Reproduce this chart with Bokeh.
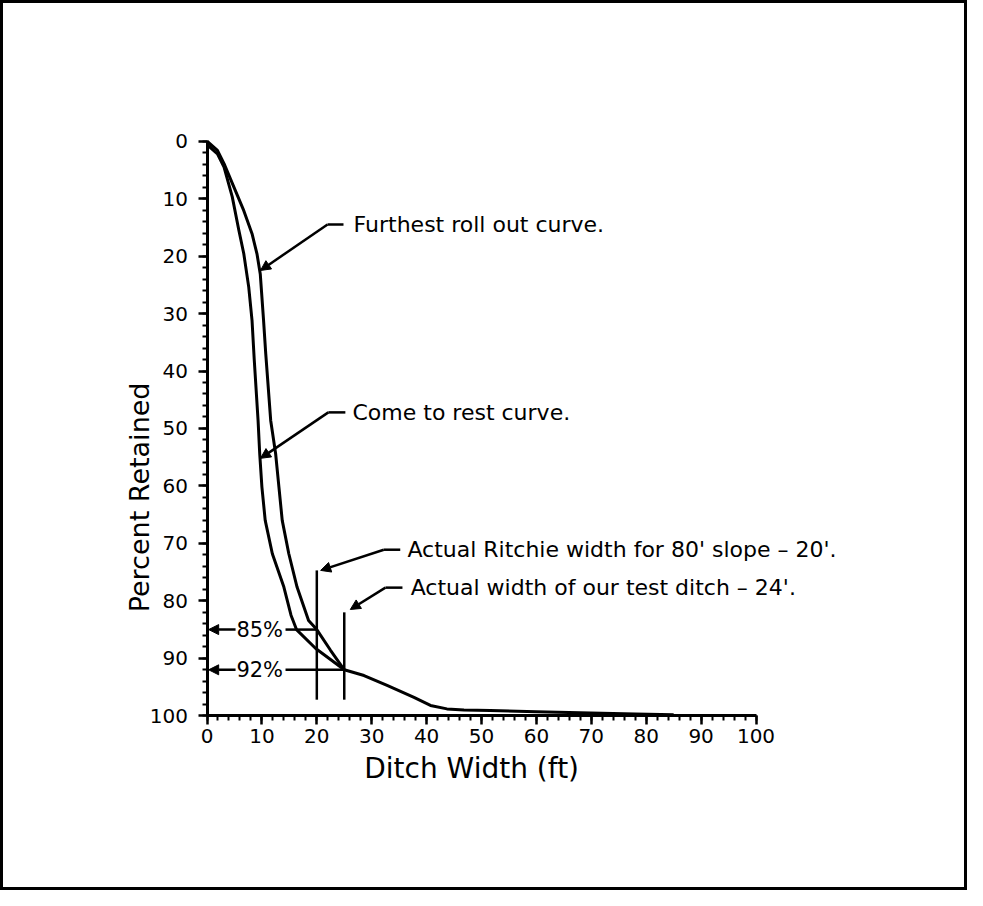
import math
from bokeh.plotting import figure
from bokeh.models import (Range1d, Arrow, NormalHead, SingleIntervalTicker,
                          ColumnDataSource, LabelSet, Label)
from bokeh.core.properties import value
from bokeh.embed import file_html
from bokeh.resources import INLINE

# ---- data ----
# Furthest roll out curve (ditch width ft, percent retained)
furthest_x = [0, 1.9, 3.1, 4.9, 6.7, 8.2, 9.1, 9.7, 10.3, 10.7, 11.6, 12.5, 13.1, 13.7, 14.9, 16.4, 18.5, 20.0, 22.5, 25.0]
furthest_y = [0, 1.6, 3.9, 8.0, 12.1, 16.1, 19.6, 23.1, 31.2, 37.0, 48.6, 54.4, 60.2, 66.0, 71.8, 77.6, 83.4, 85.0, 88.6, 92.0]
# Come to rest curve
rest_x = [0, 1.9, 3.1, 4.6, 5.8, 6.7, 7.6, 8.2, 8.6, 9.3, 9.6, 10.0, 10.6, 11.9, 14.0, 15.3, 16.3, 19.8, 22.5, 25.0]
rest_y = [0.6, 2.2, 4.5, 9.7, 15.5, 19.6, 25.4, 31.2, 38.0, 48.6, 54.4, 60.2, 66.0, 71.8, 77.6, 82.5, 85.0, 88.3, 90.2, 92.0]
# Common tail of both curves beyond 25 ft
tail_x = [25.0, 28.6, 32.8, 37.7, 40.7, 43.7, 46.8, 51.6, 60.0, 69.9, 78.0, 85.0]
tail_y = [92.0, 93.0, 94.7, 96.8, 98.2, 98.8, 99.0, 99.1, 99.3, 99.5, 99.7, 99.8]

# Ditch widths marked by vertical lines
ditch_x = [20, 25]
ditch_top = [74.7, 82.0]
ditch_bottom = [97.2, 97.2]

# Percent retained readings
pct_values = [85, 92]
pct_labels = ["85%", "92%"]

# Callout notes
note_text = ["Furthest roll out curve.", "Come to rest curve.",
             "Actual Ritchie width for 80' slope \u2013 20'.",
             "Actual width of our test ditch \u2013 24'."]
note_x = [26.7, 26.5, 36.5, 37.1]
note_y = [14.5, 47.2, 71.1, 77.7]
tip_x = [9.74, 9.74, 20.7, 26.1]
tip_y = [22.5, 55.2, 74.7, 81.5]
knee_x = [21.95, 22.1, 32.2, 32.5]
end_x = [24.86, 25.2, 35.2, 35.6]

x_title = "Ditch Width (ft)"
y_title = "Percent Retained"

FONT = "DejaVu Sans"

# frame covers the whole canvas; axes are pinned at x=0 and y=100
p = figure(width=967, height=890, output_backend="svg", toolbar_location=None,
           x_range=Range1d(-37.07, 139.07), y_range=Range1d(130.93, -23.96),
           min_border=0, title=None)
p.styles = {"border": "3px solid black"}
p.xgrid.visible = False
p.ygrid.visible = False
p.outline_line_color = None
p.background_fill_color = "white"
p.border_fill_color = "white"

p.xaxis.fixed_location = 100
p.yaxis.fixed_location = 0
for ax in (p.xaxis[0], p.yaxis[0]):
    ax.bounds = (0, 100)
    ax.ticker = SingleIntervalTicker(interval=10, num_minor_ticks=5)
    ax.axis_line_width = 3
    ax.axis_line_color = "black"
    ax.major_tick_line_width = 2.5
    ax.major_tick_line_color = "black"
    ax.minor_tick_line_width = 2
    ax.minor_tick_line_color = "black"
    ax.major_tick_in = 0
    ax.minor_tick_in = 0
    ax.major_tick_out = 9
    ax.minor_tick_out = 5
    ax.major_label_text_font = FONT
    ax.major_label_text_font_size = "20px"
    ax.major_label_text_color = "black"

p.xaxis.major_label_standoff = 4
p.yaxis.major_label_standoff = 10

# axis titles
p.add_layout(Label(x=48.2, y=109.2, text=x_title, text_font=FONT, text_font_size="28px",
                   text_align="center", text_baseline="middle", text_color="black"))
p.add_layout(Label(x=-12.3, y=62.0, text=y_title, text_font=FONT, text_font_size="27px",
                   text_align="center", text_baseline="middle", text_color="black",
                   angle=math.pi / 2))

# curves
p.line(furthest_x, furthest_y, line_width=3, color="black", line_join="round")
p.line(rest_x, rest_y, line_width=3, color="black", line_join="round")
p.line(tail_x, tail_y, line_width=3, color="black", line_join="round")

# ditch width verticals
p.segment(x0=ditch_x, y0=ditch_top, x1=ditch_x, y1=ditch_bottom, line_width=2.5, color="black")

# percent readings: arrows to the axis, label, line to ditch width
p.segment(x0=[14.3, 14.3], y0=pct_values, x1=ditch_x, y1=pct_values, line_width=2.5, color="black")
for v in pct_values:
    p.add_layout(Arrow(end=NormalHead(size=10, fill_color="black", line_color="black"),
                       x_start=5.2, y_start=v, x_end=0.3, y_end=v,
                       line_width=2.5, line_color="black"))
pct_src = ColumnDataSource(dict(x=[9.6, 9.6], y=pct_values, text=pct_labels))
p.add_layout(LabelSet(x="x", y="y", text="text", source=pct_src, text_font=value(FONT),
                      text_font_size="21px", text_align="center", text_baseline="middle",
                      text_color="black"))

# callouts
p.segment(x0=knee_x, y0=note_y, x1=end_x, y1=note_y, line_width=2.5, color="black")
for kx, ky, tx, ty in zip(knee_x, note_y, tip_x, tip_y):
    p.add_layout(Arrow(end=NormalHead(size=10, fill_color="black", line_color="black"),
                       x_start=kx, y_start=ky, x_end=tx, y_end=ty,
                       line_width=2.5, line_color="black"))
note_src = ColumnDataSource(dict(x=note_x, y=note_y, text=note_text))
p.add_layout(LabelSet(x="x", y="y", text="text", source=note_src, text_font=value(FONT),
                      text_font_size="22px", text_align="left", text_baseline="middle",
                      text_color="black"))

open("out.html", "w").write(file_html(p, INLINE))
